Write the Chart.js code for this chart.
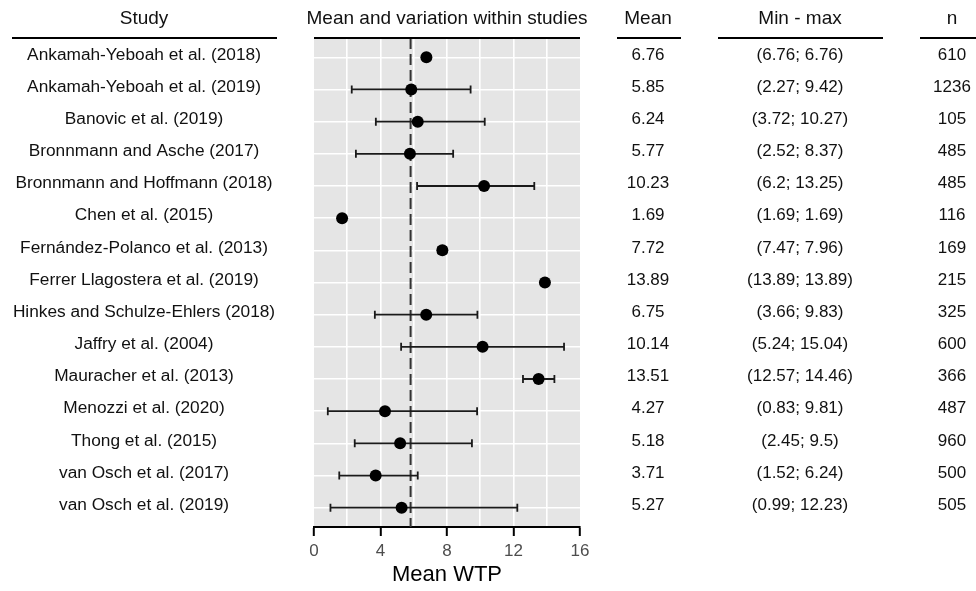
<!DOCTYPE html>
<html><head><meta charset="utf-8">
<script src="https://cdn.jsdelivr.net/npm/chart.js@4.4.0/dist/chart.umd.min.js"></script>
<style>html,body{margin:0;padding:0;background:#fff;}canvas{display:block;}</style>
</head><body>
<canvas id="c" width="976" height="591" style="width:976px;height:591px"></canvas>
<script>
const studies = [
  "Ankamah-Yeboah et al. (2018)",
  "Ankamah-Yeboah et al. (2019)",
  "Banovic et al. (2019)",
  "Bronnmann and Asche (2017)",
  "Bronnmann and Hoffmann (2018)",
  "Chen et al. (2015)",
  "Fernández-Polanco et al. (2013)",
  "Ferrer Llagostera et al. (2019)",
  "Hinkes and Schulze-Ehlers (2018)",
  "Jaffry et al. (2004)",
  "Mauracher et al. (2013)",
  "Menozzi et al. (2020)",
  "Thong et al. (2015)",
  "van Osch et al. (2017)",
  "van Osch et al. (2019)"
];
const means = [6.76, 5.85, 6.24, 5.77, 10.23, 1.69, 7.72, 13.89, 6.75, 10.14, 13.51, 4.27, 5.18, 3.71, 5.27];
const mins  = [6.76, 2.27, 3.72, 2.52, 6.2, 1.69, 7.47, 13.89, 3.66, 5.24, 12.57, 0.83, 2.45, 1.52, 0.99];
const maxs  = [6.76, 9.42, 10.27, 8.37, 13.25, 1.69, 7.96, 13.89, 9.83, 15.04, 14.46, 9.81, 9.5, 6.24, 12.23];
const ns    = [610, 1236, 105, 485, 485, 116, 169, 215, 325, 600, 366, 487, 960, 500, 505];
const xTickLabels = [0, 4, 8, 12, 16];
const xGridValues = [0, 2, 4, 6, 8, 10, 12, 14, 16];
const refLine = 5.81;
const headers = ["Study", "Mean and variation within studies", "Mean", "Min - max", "n"];
const axisTitle = "Mean WTP";

const FONT = '"Liberation Sans", Arial, Helvetica, sans-serif';

const forestPlugin = {
  id: 'forest',
  beforeDraw(chart) {
    const {ctx, chartArea: a} = chart;
    ctx.save();
    ctx.fillStyle = '#e5e5e5';
    ctx.fillRect(a.left, a.top, a.right - a.left, a.bottom - a.top);
    ctx.restore();
  },
  beforeDatasetsDraw(chart) {
    const {ctx, chartArea: a, scales: {x, y}} = chart;
    ctx.save();
    const rx = x.getPixelForValue(refLine);
    ctx.strokeStyle = '#333';
    ctx.lineWidth = 2;
    ctx.setLineDash([11, 5]);
    ctx.beginPath(); ctx.moveTo(rx, a.top); ctx.lineTo(rx, a.bottom); ctx.stroke();
    ctx.setLineDash([]);
    ctx.strokeStyle = '#1a1a1a';
    ctx.lineWidth = 1.8;
    for (let i = 0; i < studies.length; i++) {
      if (mins[i] === maxs[i]) continue;
      const x1 = x.getPixelForValue(mins[i]);
      const x2 = x.getPixelForValue(maxs[i]);
      const yy = y.getPixelForValue(i + 1);
      ctx.beginPath();
      ctx.moveTo(x1, yy); ctx.lineTo(x2, yy);
      ctx.moveTo(x1, yy - 4); ctx.lineTo(x1, yy + 4);
      ctx.moveTo(x2, yy - 4); ctx.lineTo(x2, yy + 4);
      ctx.stroke();
    }
    ctx.restore();
  },
  afterDraw(chart) {
    const {ctx, chartArea: a, scales: {y}} = chart;
    ctx.save();
    const cols = [144, (a.left + a.right) / 2, 648, 800, 952];
    const lines = [[12, 277], [a.left, a.right], [617, 681], [718, 883], [920, 976]];
    ctx.fillStyle = '#111';
    ctx.textAlign = 'center';
    ctx.textBaseline = 'alphabetic';
    ctx.font = '19px ' + FONT;
    headers.forEach((h, k) => ctx.fillText(h, cols[k], 23.5));
    ctx.strokeStyle = '#000';
    ctx.lineWidth = 2;
    lines.forEach(([l, r]) => { ctx.beginPath(); ctx.moveTo(l, a.top); ctx.lineTo(r, a.top); ctx.stroke(); });
    for (let i = 0; i < studies.length; i++) {
      const yy = y.getPixelForValue(i + 1) + 2.3;
      ctx.font = '17.3px ' + FONT;
      ctx.fillText(studies[i], cols[0], yy);
      ctx.font = '17px ' + FONT;
      ctx.fillText(String(means[i]), cols[2], yy);
      ctx.fillText('(' + mins[i] + '; ' + maxs[i] + ')', cols[3], yy);
      ctx.fillText(String(ns[i]), cols[4], yy);
    }
    ctx.restore();
  }
};

new Chart(document.getElementById('c'), {
  type: 'scatter',
  data: {
    datasets: [{
      data: means.map((m, i) => ({x: m, y: i + 1})),
      pointRadius: 6,
      pointHoverRadius: 6,
      backgroundColor: '#000',
      borderColor: '#000',
      borderWidth: 0
    }]
  },
  options: {
    responsive: false,
    animation: false,
    devicePixelRatio: 1,
    events: [],
    layout: {padding: {left: 314, right: 396, top: 38, bottom: 0}},
    plugins: {legend: {display: false}, tooltip: {enabled: false}},
    scales: {
      x: {
        type: 'linear', min: 0, max: 16, position: 'bottom',
        afterBuildTicks: s => { s.ticks = xGridValues.map(v => ({value: v})); },
        afterFit: s => { s.height = 64; },
        ticks: {
          autoSkip: false, maxRotation: 0, padding: 5,
          color: '#4d4d4d', font: {family: FONT, size: 17},
          callback: v => xTickLabels.includes(v) ? String(v) : ''
        },
        grid: {
          color: c => (c.tick && c.tick.value > 0 && c.tick.value < 16) ? '#ffffff' : 'rgba(0,0,0,0)',
          lineWidth: 1.6,
          tickColor: c => (c.tick && xTickLabels.includes(c.tick.value)) ? '#000' : 'rgba(0,0,0,0)',
          tickLength: 9, tickWidth: 2
        },
        border: {display: true, color: '#000', width: 2},
        title: {display: true, text: axisTitle, color: '#000', font: {family: FONT, size: 22}, padding: {top: 0, bottom: 3}}
      },
      y: {
        type: 'linear', reverse: true, min: 0.4, max: 15.6,
        afterBuildTicks: s => { s.ticks = studies.map((_, i) => ({value: i + 1})); },
        afterFit: s => { s.width = 0; },
        ticks: {display: false},
        grid: {color: '#ffffff', lineWidth: 1.6, drawTicks: false},
        border: {display: false}
      }
    }
  },
  plugins: [forestPlugin]
});
</script>
</body></html>
